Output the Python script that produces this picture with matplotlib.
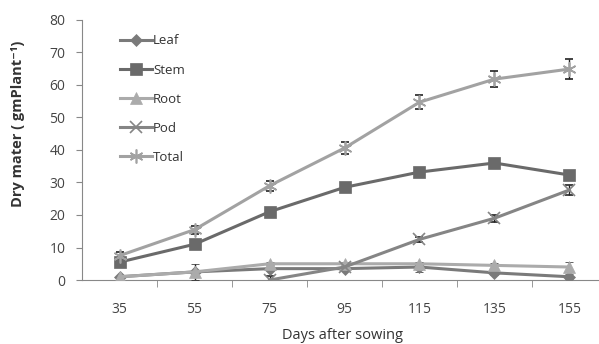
import numpy as np
import matplotlib
matplotlib.use('Agg')
import matplotlib.pyplot as plt

plt.rcParams['font.family'] = ['Open Sans', 'DejaVu Sans']

days = ['35', '55', '75', '95', '115', '135', '155']

leaf = [1.0, 2.5, 3.5, 3.5, 4.0, 2.2, 1.0]
leaf_err = [0.3, 0.5, 0.5, 0.5, 1.5, 0.8, 0.8]
stem = [5.5, 11.0, 21.0, 28.5, 33.2, 36.0, 32.3]
stem_err = [0.5, 0.8, 0.8, 0.8, 0.8, 0.8, 0.8]
root = [1.0, 2.5, 5.0, 5.0, 5.0, 4.5, 4.0]
root_err = [0.3, 2.5, 0.5, 0.5, 0.5, 0.8, 1.5]
pod = [np.nan, np.nan, 0.0, 4.0, 12.5, 19.0, 27.7]
pod_err = [np.nan, np.nan, 1.2, 0.8, 0.8, 1.0, 1.5]
total = [7.5, 15.5, 29.0, 40.6, 54.7, 61.8, 64.9]
total_err = [1.0, 1.2, 1.5, 1.8, 2.2, 2.5, 3.2]

x = np.arange(len(days))

fig = plt.figure(figsize=(5.99, 3.44), dpi=100)
ax = fig.add_axes([0.137, 0.186, 0.87, 0.756])

asterisk = (6, 2, 0)
series = [
    ('Leaf', leaf, leaf_err, 'D', '#7a7a7a', 6),
    ('Stem', stem, stem_err, 's', '#6a6a6a', 9),
    ('Root', root, root_err, '^', '#ababab', 8),
    ('Pod', pod, pod_err, 'x', '#858585', 9),
    ('Total', total, total_err, asterisk, '#a2a2a2', 10),
]
for name, vals, err, mk, col, ms in series:
    ax.errorbar(x, vals, yerr=err, color=col, marker=mk, markersize=ms,
                linewidth=2.2, ecolor='#222222', elinewidth=1, capsize=3,
                capthick=1, label=name, markeredgewidth=1.2 if mk in ('x', asterisk) else 0.5,
                markeredgecolor=col, zorder=3)

ax.set_xlim(-0.5, 6.45)
ax.set_ylim(0, 80)
ax.set_yticks(range(0, 81, 10))
ax.set_xticks(x)
ax.set_xticklabels(days)
ax.set_xticks(np.arange(0.5, 6.5, 1), minor=True)
ax.tick_params(axis='x', which='major', length=0, pad=16, labelsize=10, colors='#444444')
ax.tick_params(axis='x', which='minor', length=5, color='#888888')
ax.tick_params(axis='y', length=4, color='#888888', labelsize=10, colors='#444444', pad=8)
for s in ['top', 'right']:
    ax.spines[s].set_visible(False)
ax.spines['left'].set_color('#888888')
ax.spines['bottom'].set_color('#888888')

ax.set_xlabel('Days after sowing', fontsize=10.5, color='#333333', labelpad=8)
ax.set_ylabel('Dry mater ( gmPlant\u207b\u00b9)', fontsize=10.5, fontweight='bold', color='#333333')
ax.yaxis.set_label_coords(-0.11, 0.6)

handles, labels = ax.get_legend_handles_labels()
handles = [h[0] for h in handles]
ax.legend(handles, labels, loc='upper left', bbox_to_anchor=(0.05, 0.99), frameon=False,
          fontsize=9.5, handlelength=2.4, handletextpad=0.1, labelspacing=1.22,
          labelcolor='#333333')

fig.savefig('out.png', dpi=100)
